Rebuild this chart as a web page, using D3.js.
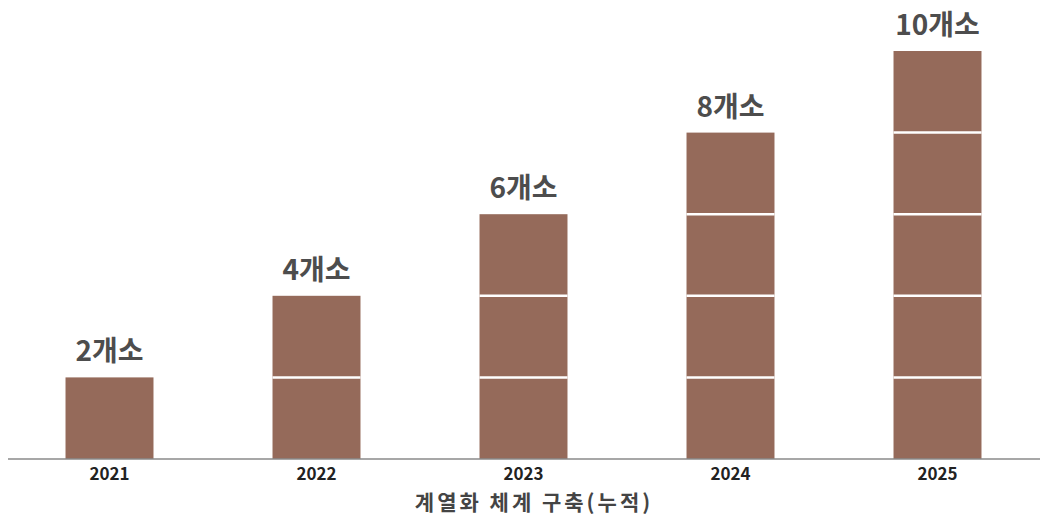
<!DOCTYPE html>
<html>
<head>
<meta charset="utf-8">
<script src="https://cdn.jsdelivr.net/npm/d3@7"></script>
<style>
    html, body { margin: 0; padding: 0; background: #fff; }
    svg { display: block; }
</style>
</head>
<body>
<div id="chart"></div>
<script>
// 연도별 계열화 체계 구축 (누적 개소)
const years = ["2021", "2022", "2023", "2024", "2025"];
const counts = [2, 4, 6, 8, 10];
const segmentSize = 2;              // 한 칸 = 2개소
const valueSuffix = "개소";
const axisTitle = "계열화 체계 구축(누적)";

const createChart = () => {
    const width = 1040;
    const height = 526;
    const baseline = 459;

    const svg = d3.select("#chart")
        .append("svg")
        .attr("width", width)
        .attr("height", height);

    const font = "'Noto Sans CJK KR', 'Noto Sans', sans-serif";
    const barColor = "#956a5a";

    // x 스케일
    const x = d3.scaleBand()
        .domain(years)
        .range([6, 1041])
        .paddingInner(0.575)
        .paddingOuter(0.2875);

    // y 스케일
    const y = d3.scaleLinear()
        .domain([0, 10])
        .range([baseline, 51]);

    const data = years.map((yr, i) => ({ year: yr, value: counts[i] }));

    // 막대 (2개소 단위로 나누어 그림)
    const bars = svg.append("g")
        .selectAll("g")
        .data(data)
        .enter()
        .append("g");

    bars.append("rect")
        .attr("x", d => x(d.year))
        .attr("y", d => y(d.value))
        .attr("width", x.bandwidth())
        .attr("height", d => baseline - y(d.value))
        .attr("fill", barColor);

    // 칸 구분선
    bars.selectAll("line")
        .data(d => d3.range(segmentSize, d.value, segmentSize).map(v => ({ year: d.year, v })))
        .enter()
        .append("line")
        .attr("x1", d => x(d.year))
        .attr("x2", d => x(d.year) + x.bandwidth())
        .attr("y1", d => y(d.v))
        .attr("y2", d => y(d.v))
        .attr("stroke", "#fff")
        .attr("stroke-width", 2.5);

    // 값 라벨
    svg.append("g")
        .selectAll("text")
        .data(data)
        .enter()
        .append("text")
        .attr("x", d => x(d.year) + x.bandwidth() / 2)
        .attr("y", d => y(d.value) - 16)
        .attr("text-anchor", "middle")
        .style("font-family", font)
        .style("font-size", "28px")
        .style("font-weight", "bold")
        .style("fill", "#4d4d4d")
        .text(d => d.value + valueSuffix);

    // x축
    const xAxis = svg.append("g")
        .attr("transform", `translate(0,${baseline})`)
        .call(d3.axisBottom(x).tickSize(0).tickPadding(9));

    xAxis.select(".domain").remove();
    xAxis.append("line")
        .attr("x1", 8)
        .attr("x2", width)
        .attr("stroke", "#8a8a8a")
        .attr("stroke-width", 1.5);

    xAxis.selectAll("text")
        .style("font-family", font)
        .style("font-size", "17px")
        .style("font-weight", "bold")
        .style("fill", "#222");

    // 축 제목
    svg.append("text")
        .attr("x", 534)
        .attr("y", 510)
        .attr("text-anchor", "middle")
        .style("font-family", font)
        .style("font-size", "21px")
        .style("font-weight", "bold")
        .style("letter-spacing", "3px")
        .style("fill", "#444")
        .text(axisTitle);
};

if (document.readyState === "loading") {
    document.addEventListener("DOMContentLoaded", createChart);
} else {
    createChart();
}
</script>
</body>
</html>
